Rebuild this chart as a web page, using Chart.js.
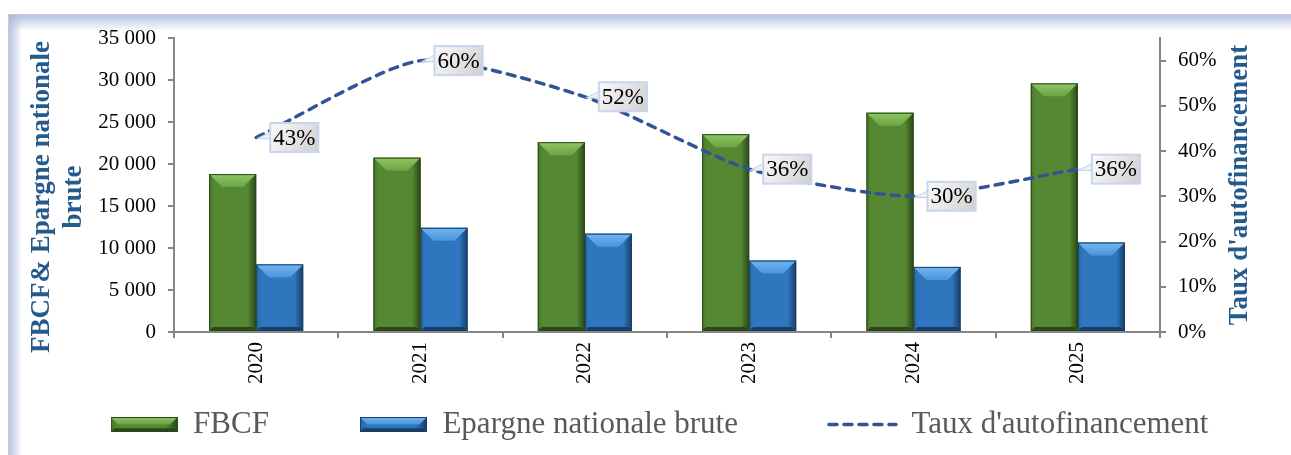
<!DOCTYPE html>
<html>
<head>
<meta charset="utf-8">
<script src="https://cdn.jsdelivr.net/npm/chart.js@4"></script>
<style>
html, body { margin: 0; padding: 0; background: #fff; }
#wrap { position: relative; width: 1291px; height: 455px; overflow: hidden; }
#frame {
    position: absolute; left: 8px; top: 14px; width: 1320px; height: 470px;
    border-top: 1px solid #c6cbd9; border-left: 1px solid #c6cbd9;
    background:
        linear-gradient(to bottom, rgba(170, 185, 222, 0.85), rgba(255, 255, 255, 0) 16px),
        linear-gradient(to right, rgba(170, 185, 222, 0.85), rgba(255, 255, 255, 0) 13px),
        #fff;
}
canvas { position: absolute; left: 0; top: 0; }
</style>
</head>
<body>
<div id="wrap">
    <div id="frame"></div>
    <canvas id="myChart" width="1291" height="455"></canvas>
</div>
<script>
// Data
var years = ['2020', '2021', '2022', '2023', '2024', '2025'];
var fbcf = [18800, 20750, 22600, 23550, 26100, 29600];
var epargne = [8050, 12400, 11700, 8500, 7750, 10650];
var taux = [43, 60, 52, 36, 30, 36];

var leftTitle = ['FBCF& Epargne nationale', 'brute'];
var rightTitle = "Taux d'autofinancement";

var serif = '"Liberation Serif", "Times New Roman", serif';
var titleColor = '#245a8c';
var lineColor = '#2f5597';

var green = { edge: '#467529', mid: '#568834', dark: '#2a4718', light: '#8dc764', light2: '#6ca345' };
var blue = { edge: '#2867a3', mid: '#2e77bf', dark: '#173e66', light: '#72b6f2', light2: '#4b94da' };

// bevelled "3D" look of the bars
function drawBevel(ctx, l, t, r, b, c) {
    var w = r - l, h = b - t;
    if (w <= 0 || h <= 0) return;
    var bv = Math.min(13, w / 3.5, h / 2);
    ctx.save();
    var g = ctx.createLinearGradient(l, 0, r, 0);
    g.addColorStop(0, c.edge);
    g.addColorStop(0.1, c.mid);
    g.addColorStop(0.82, c.mid);
    g.addColorStop(1, c.dark);
    ctx.fillStyle = g;
    ctx.fillRect(l, t, w, h);
    var g2 = ctx.createLinearGradient(0, t, 0, t + bv);
    g2.addColorStop(0, c.light);
    g2.addColorStop(1, c.light2);
    ctx.fillStyle = g2;
    ctx.beginPath();
    ctx.moveTo(l, t); ctx.lineTo(r, t); ctx.lineTo(r - bv, t + bv); ctx.lineTo(l + bv, t + bv);
    ctx.closePath();
    ctx.fill();
    var e = Math.min(4, h / 4);
    ctx.fillStyle = c.dark;
    ctx.beginPath();
    ctx.moveTo(l, b); ctx.lineTo(r, b); ctx.lineTo(r - e, b - e); ctx.lineTo(l + e, b - e);
    ctx.closePath();
    ctx.fill();
    ctx.strokeStyle = c.dark;
    ctx.lineWidth = 1;
    ctx.strokeRect(l + 0.5, t + 0.5, w - 1, h - 1);
    ctx.restore();
}

function legendIcon(c) {
    var cv = document.createElement('canvas');
    cv.width = 67; cv.height = 15;
    drawBevel(cv.getContext('2d'), 0, 0, 67, 15, c);
    return cv;
}

function fmtThousands(v) {
    return v.toString().replace(/\B(?=(\d{3})+(?!\d))/g, ' ');
}

var bevelPlugin = {
    id: 'bevel',
    afterDatasetDraw: function(chart, args) {
        var meta = args.meta;
        if (meta.type !== 'bar') return;
        var c = args.index === 0 ? green : blue;
        meta.data.forEach(function(bar) {
            var p = bar.getProps(['x', 'y', 'base', 'width'], true);
            drawBevel(chart.ctx, p.x - p.width / 2, p.y, p.x + p.width / 2, p.base, c);
        });
    }
};

var calloutPlugin = {
    id: 'callouts',
    afterDatasetsDraw: function(chart) {
        var ctx = chart.ctx;
        var meta = chart.getDatasetMeta(2);
        ctx.save();
        ctx.font = '23px ' + serif;
        meta.data.forEach(function(pt, i) {
            var x = pt.x, y = pt.y;
            var txt = taux[i] + '%';
            var tw = ctx.measureText(txt).width;
            var bw = tw + 6, bh = 29;
            var bl = x + 14, bt = y - bh / 2;
            ctx.beginPath();
            ctx.moveTo(x + 1, y + 1);
            ctx.lineTo(bl + 1, bt + bh * 0.3);
            ctx.lineTo(bl + 1, bt + bh * 0.55);
            ctx.closePath();
            ctx.fillStyle = '#eef1f7';
            ctx.fill();
            ctx.strokeStyle = '#bfcde6';
            ctx.lineWidth = 1;
            ctx.stroke();
            var g = ctx.createLinearGradient(bl, bt, bl + bw, bt + bh);
            g.addColorStop(0, '#fbfbfb');
            g.addColorStop(1, '#cfcfcf');
            ctx.fillStyle = g;
            ctx.fillRect(bl, bt, bw, bh);
            ctx.strokeStyle = '#c7d5ee';
            ctx.lineWidth = 2;
            ctx.strokeRect(bl, bt, bw, bh);
            ctx.fillStyle = '#000';
            ctx.textAlign = 'left';
            ctx.textBaseline = 'middle';
            ctx.fillText(txt, bl + 3, y + 1);
        });
        ctx.restore();
    }
};

// axis titles, both reading bottom to top
var axisTitles = {
    id: 'axisTitles',
    afterDraw: function(chart) {
        var ctx = chart.ctx;
        var area = chart.chartArea;
        var midY = (area.top + area.bottom) / 2;
        ctx.save();
        ctx.font = 'bold 27px ' + serif;
        ctx.fillStyle = titleColor;
        ctx.textAlign = 'center';
        ctx.textBaseline = 'middle';
        leftTitle.forEach(function(line, i) {
            ctx.save();
            ctx.translate(chart.scales.y.left + 42 + i * 32, midY + 12);
            ctx.rotate(-Math.PI / 2);
            ctx.fillText(line, 0, 0);
            ctx.restore();
        });
        ctx.translate(chart.scales.y1.right - 51, midY);
        ctx.rotate(-Math.PI / 2);
        ctx.fillText(rightTitle, 0, 0);
        ctx.restore();
    }
};

// wide horizontal gaps between legend items without a tall legend box
var legendPlace = {
    id: 'legendPlace',
    afterLayout: function(chart) {
        var lg = chart.legend;
        var pad = lg.options.labels.padding;
        lg.left += 14;
        lg.right += 14;
        lg.top -= pad - 17;
    }
};

var ctx = document.getElementById('myChart').getContext('2d');
var myChart = new Chart(ctx, {
    type: 'bar',
    data: {
        labels: years,
        datasets: [{
            label: 'FBCF',
            data: fbcf,
            backgroundColor: green.mid,
            yAxisID: 'y',
            order: 1,
            barPercentage: 1,
            categoryPercentage: 0.572
        }, {
            label: 'Epargne nationale brute',
            data: epargne,
            backgroundColor: blue.mid,
            yAxisID: 'y',
            order: 1,
            barPercentage: 1,
            categoryPercentage: 0.572
        }, {
            type: 'line',
            label: rightTitle,
            data: taux,
            yAxisID: 'y1',
            order: 0,
            borderColor: lineColor,
            backgroundColor: lineColor,
            borderWidth: 3.5,
            borderDash: [8, 7],
            borderCapStyle: 'round',
            pointRadius: 0,
            tension: 0.22,
            fill: false
        }]
    },
    options: {
        responsive: false,
        animation: false,
        layout: { padding: { top: 38, bottom: 7, left: 0, right: 0 } },
        plugins: {
            tooltip: { enabled: false },
            legend: {
                position: 'bottom',
                maxHeight: 56,
                labels: {
                    usePointStyle: true,
                    pointStyleWidth: 67,
                    boxHeight: 15,
                    padding: 91,
                    color: '#595959',
                    font: { family: serif, size: 31 },
                    sort: function(a, b) { return a.datasetIndex - b.datasetIndex; },
                    generateLabels: function(chart) {
                        var items = Chart.defaults.plugins.legend.labels.generateLabels(chart);
                        items.forEach(function(it) {
                            if (it.datasetIndex === 0) it.pointStyle = legendIcon(green);
                            else if (it.datasetIndex === 1) it.pointStyle = legendIcon(blue);
                            else {
                                it.pointStyle = 'line';
                                it.lineCap = 'round';
                                it.lineDash = [8, 7];
                                it.lineWidth = 3.5;
                                it.strokeStyle = lineColor;
                            }
                        });
                        return items;
                    }
                }
            }
        },
        scales: {
            x: {
                offset: true,
                grid: { offset: true, drawOnChartArea: false, drawTicks: true, tickLength: 6, color: '#868686', lineWidth: 2 },
                border: { color: '#868686', width: 2 },
                ticks: { minRotation: 90, maxRotation: 90, color: '#000', padding: 4, font: { family: serif, size: 21 } },
                afterFit: function(s) { s.height = 60; }
            },
            y: {
                position: 'left',
                min: 0,
                max: 35000,
                ticks: {
                    stepSize: 5000,
                    color: '#000',
                    padding: 12,
                    font: { family: serif, size: 21 },
                    callback: function(v) { return fmtThousands(v); }
                },
                grid: { drawOnChartArea: false, drawTicks: true, tickLength: 6, color: '#868686', lineWidth: 2 },
                border: { color: '#868686', width: 2 },
                afterFit: function(s) { s.width = 174; }
            },
            y1: {
                position: 'right',
                min: 0,
                max: 65,
                ticks: {
                    stepSize: 10,
                    includeBounds: false,
                    color: '#000',
                    padding: 12,
                    font: { family: serif, size: 21 },
                    callback: function(v) { return v + '%'; }
                },
                grid: { drawOnChartArea: false, drawTicks: true, tickLength: 6, color: '#868686', lineWidth: 2 },
                border: { color: '#868686', width: 2 },
                afterFit: function(s) { s.width = 131; }
            }
        }
    },
    plugins: [bevelPlugin, calloutPlugin, axisTitles, legendPlace]
});
</script>
</body>
</html>
